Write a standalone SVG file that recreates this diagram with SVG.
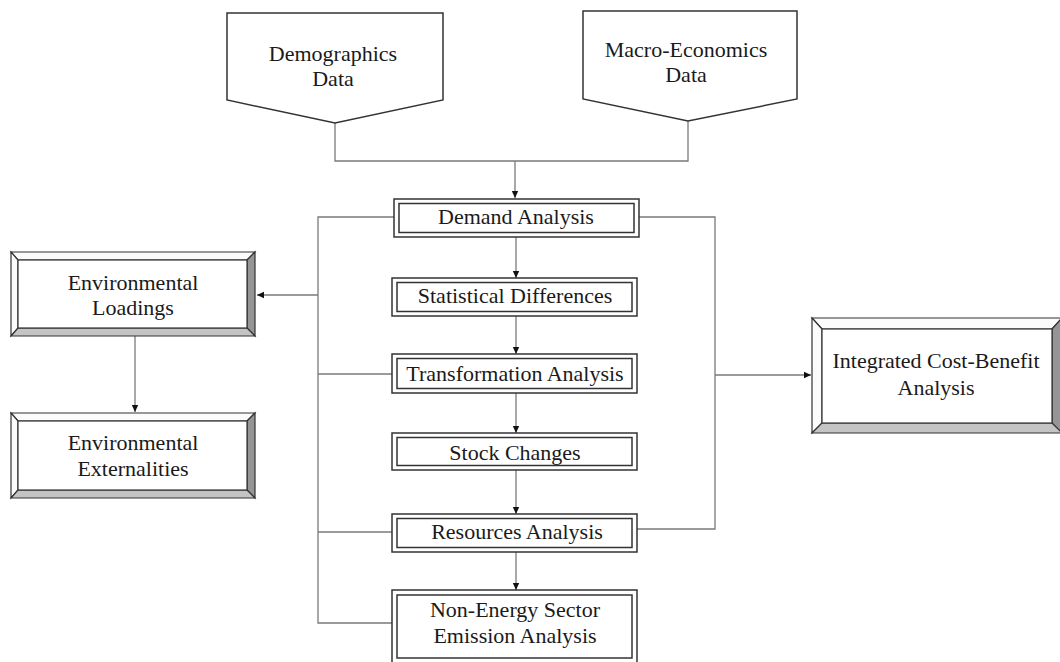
<svg xmlns="http://www.w3.org/2000/svg" width="1060" height="662" viewBox="0 0 1060 662">
<defs>
<style>
.t{font-family:"Liberation Serif","Times New Roman",serif;font-size:22px;fill:#1a1a1a;text-anchor:middle}
.c{fill:none;stroke:#7a7a7a;stroke-width:1.3}
.b{fill:#fff;stroke:#333;stroke-width:1.5}
.p{fill:#fff;stroke:#333;stroke-width:1.5}
.lt{fill:#fbfbfb;stroke:#333;stroke-width:1.2}
.dk{fill:#959595;stroke:#333;stroke-width:1.2}
.md{fill:#c4c4c4;stroke:#333;stroke-width:1.2}
</style>
<marker id="ah" markerWidth="8" markerHeight="8" refX="7" refY="4" orient="auto" markerUnits="userSpaceOnUse">
<path d="M0,0.8 L7,4 L0,7.2 Z" fill="#111"/>
</marker>
</defs>
<rect width="1060" height="662" fill="#fff"/>

<g id="connectors">
<polyline class="c" points="335,123 335,161 688,161 688,121"/>
<line class="c" x1="515" y1="161" x2="515" y2="198" marker-end="url(#ah)"/>
<line class="c" x1="516" y1="237" x2="516" y2="278" marker-end="url(#ah)"/>
<line class="c" x1="516" y1="316" x2="516" y2="354" marker-end="url(#ah)"/>
<line class="c" x1="516" y1="393" x2="516" y2="433" marker-end="url(#ah)"/>
<line class="c" x1="516" y1="470" x2="516" y2="514" marker-end="url(#ah)"/>
<line class="c" x1="516" y1="552" x2="516" y2="590" marker-end="url(#ah)"/>
<polyline class="c" points="395,217 318,217 318,623 392,623"/>
<line class="c" x1="318" y1="374" x2="392" y2="374"/>
<line class="c" x1="318" y1="532" x2="392" y2="532"/>
<line class="c" x1="318" y1="295" x2="257" y2="295" marker-end="url(#ah)"/>
<polyline class="c" points="639,217 715,217 715,529 637,529"/>
<line class="c" x1="715" y1="375" x2="811" y2="375" marker-end="url(#ah)"/>
<line class="c" x1="135" y1="336" x2="135" y2="412" marker-end="url(#ah)"/>
</g>

<g id="demographics">
<polygon class="p" points="227,13 443,13 443,100 335,123 227,100"/>
<text class="t" x="333" y="61">Demographics</text>
<text class="t" x="333" y="86">Data</text>
</g>

<g id="macro">
<polygon class="p" points="583,11 797,11 797,99 688,121 583,99"/>
<text class="t" x="686" y="57">Macro-Economics</text>
<text class="t" x="686" y="82">Data</text>
</g>

<g id="demand">
<rect class="b" x="394" y="199" width="245" height="38"/>
<rect class="b" x="399" y="203.5" width="235" height="29"/>
<text class="t" x="516" y="224">Demand Analysis</text>
</g>

<g id="statistical">
<rect class="b" x="392" y="278" width="245" height="38"/>
<rect class="b" x="397" y="282.5" width="235" height="29"/>
<text class="t" x="515" y="303">Statistical Differences</text>
</g>

<g id="transformation">
<rect class="b" x="392" y="354" width="245" height="39"/>
<rect class="b" x="397" y="358.5" width="235" height="30"/>
<text class="t" x="515" y="381">Transformation Analysis</text>
</g>

<g id="stock">
<rect class="b" x="392" y="433" width="245" height="37"/>
<rect class="b" x="397" y="437.5" width="235" height="28"/>
<text class="t" x="515" y="460">Stock Changes</text>
</g>

<g id="resources">
<rect class="b" x="392" y="514" width="245" height="38"/>
<rect class="b" x="397" y="518.5" width="235" height="29"/>
<text class="t" x="517" y="539">Resources Analysis</text>
</g>

<g id="nonenergy">
<rect class="b" x="392" y="590" width="245" height="76"/>
<rect class="b" x="397" y="595" width="235" height="63"/>
<text class="t" x="515" y="617">Non-Energy Sector</text>
<text class="t" x="515" y="643">Emission Analysis</text>
</g>

<g id="env-loadings">
<polygon class="lt" points="11,252 255,252 247,260 18,260"/>
<polygon class="lt" points="11,252 18,260 18,328 11,336"/>
<polygon class="dk" points="255,252 255,336 247,328 247,260"/>
<polygon class="md" points="11,336 18,328 247,328 255,336"/>
<rect x="18" y="260" width="229" height="68" fill="#fff" stroke="#333" stroke-width="1.2"/>
<text class="t" x="133" y="290">Environmental</text>
<text class="t" x="133" y="315">Loadings</text>
</g>

<g id="env-externalities">
<polygon class="lt" points="11,413 255,413 247,421 18,421"/>
<polygon class="lt" points="11,413 18,421 18,490 11,498"/>
<polygon class="dk" points="255,413 255,498 247,490 247,421"/>
<polygon class="md" points="11,498 18,490 247,490 255,498"/>
<rect x="18" y="421" width="229" height="69" fill="#fff" stroke="#333" stroke-width="1.2"/>
<text class="t" x="133" y="450">Environmental</text>
<text class="t" x="133" y="476">Externalities</text>
</g>

<g id="integrated">
<polygon class="lt" points="812,318 1062,318 1052,329 822,329"/>
<polygon class="lt" points="812,318 822,329 822,423 812,433"/>
<polygon class="dk" points="1062,318 1062,433 1052,423 1052,329"/>
<polygon class="md" points="812,433 822,423 1052,423 1062,433"/>
<rect x="822" y="329" width="230" height="94" fill="#fff" stroke="#333" stroke-width="1.2"/>
<text class="t" x="936" y="368">Integrated Cost-Benefit</text>
<text class="t" x="936" y="395">Analysis</text>
</g>
</svg>
